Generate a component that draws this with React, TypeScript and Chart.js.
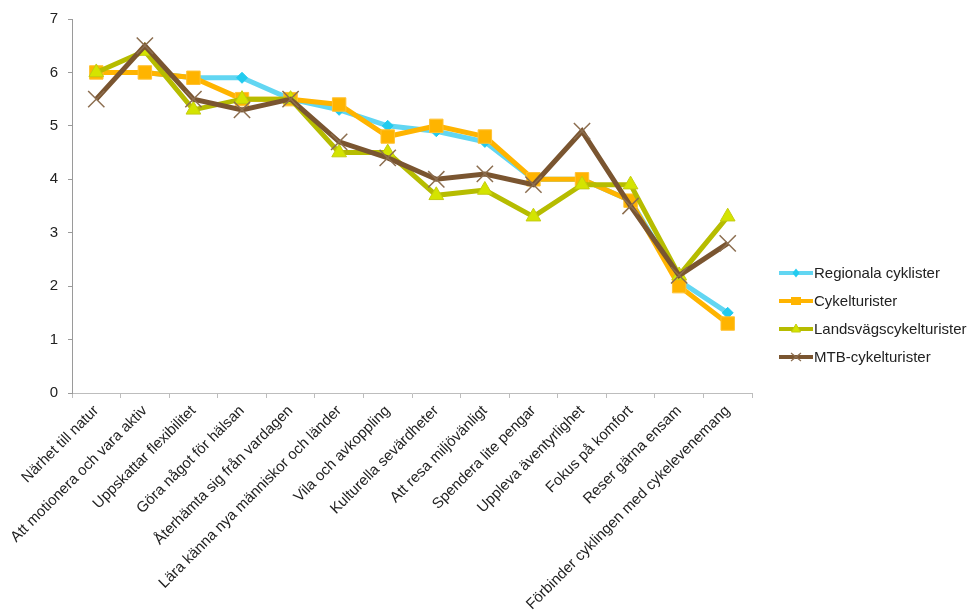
import React, { useEffect, useRef } from "react";
import { Chart, registerables } from "chart.js";

Chart.register(...registerables);

const categories = [
  "Närhet till natur",
  "Att motionera och vara aktiv",
  "Uppskattar flexibilitet",
  "Göra något för hälsan",
  "Återhämta sig från vardagen",
  "Lära känna nya människor och länder",
  "Vila och avkoppling",
  "Kulturella sevärdheter",
  "Att resa miljövänligt",
  "Spendera lite pengar",
  "Uppleva äventyrlighet",
  "Fokus på komfort",
  "Reser gärna ensam",
  "Förbinder cyklingen med cykelevenemang",
];

const regionalaCyklister = [6.0, 6.0, 5.9, 5.9, 5.5, 5.3, 5.0, 4.9, 4.7, 4.0, 4.0, 3.6, 2.1, 1.5];
const cykelturister = [6.0, 6.0, 5.9, 5.5, 5.5, 5.4, 4.8, 5.0, 4.8, 4.0, 4.0, 3.6, 2.0, 1.3];
const landsvagscykelturister = [6.0, 6.4, 5.3, 5.5, 5.5, 4.5, 4.5, 3.7, 3.8, 3.3, 3.9, 3.9, 2.2, 3.3];
const mtbCykelturister = [5.5, 6.5, 5.5, 5.3, 5.5, 4.7, 4.4, 4.0, 4.1, 3.9, 4.9, 3.5, 2.2, 2.8];

const yTicks = [0, 1, 2, 3, 4, 5, 6, 7];

const FONT = "'Liberation Sans', Arial, Helvetica, sans-serif";

// Legend at the right: a short line sample with the series marker in its middle.
const sideLegend = {
  id: "sideLegend",
  afterDraw(chart: any) {
    const ctx = chart.ctx;
    const x0 = 779;
    const x1 = 813;
    const top = 273;
    const step = 28;
    chart.data.datasets.forEach((ds: any, i: number) => {
      const y = top + i * step;
      const cx = (x0 + x1) / 2;
      ctx.save();
      ctx.strokeStyle = ds.borderColor;
      ctx.lineWidth = 4;
      ctx.beginPath();
      ctx.moveTo(x0, y);
      ctx.lineTo(x1, y);
      ctx.stroke();

      ctx.fillStyle = ds.pointBackgroundColor;
      ctx.strokeStyle = ds.pointBorderColor;
      ctx.lineWidth = 1;
      ctx.beginPath();
      if (ds.pointStyle === "rectRot") {
        ctx.moveTo(cx, y - 4.5);
        ctx.lineTo(cx + 3.5, y);
        ctx.lineTo(cx, y + 4.5);
        ctx.lineTo(cx - 3.5, y);
        ctx.closePath();
        ctx.fill();
      } else if (ds.pointStyle === "rect") {
        ctx.rect(cx - 5, y - 4, 10, 8);
        ctx.fill();
      } else if (ds.pointStyle === "triangle") {
        ctx.moveTo(cx, y - 5);
        ctx.lineTo(cx + 4.5, y + 3);
        ctx.lineTo(cx - 4.5, y + 3);
        ctx.closePath();
        ctx.fill();
        ctx.stroke();
      } else {
        ctx.lineWidth = 1.2;
        ctx.moveTo(cx - 5, y - 4);
        ctx.lineTo(cx + 5, y + 4);
        ctx.moveTo(cx + 5, y - 4);
        ctx.lineTo(cx - 5, y + 4);
        ctx.stroke();
      }

      ctx.fillStyle = "#222";
      ctx.font = `15px ${FONT}`;
      ctx.textAlign = "left";
      ctx.textBaseline = "middle";
      ctx.fillText(ds.label, x1 + 1, y + 1);
      ctx.restore();
    });
  },
};

export default function App() {
  const canvasRef = useRef<HTMLCanvasElement | null>(null);

  useEffect(() => {
    document.body.style.margin = "0";
    const canvas = canvasRef.current;
    if (!canvas) return;

    const chart = new Chart(canvas, {
      type: "line",
      data: {
        labels: categories,
        datasets: [
          {
            label: "Regionala cyklister",
            data: regionalaCyklister,
            borderColor: "#62D6F2",
            borderWidth: 5,
            pointStyle: "rectRot",
            pointRadius: 5.5,
            pointBackgroundColor: "#22CBEF",
            pointBorderColor: "#22CBEF",
            pointBorderWidth: 1,
            order: 4,
          },
          {
            label: "Cykelturister",
            data: cykelturister,
            borderColor: "#FFB400",
            borderWidth: 5,
            pointStyle: "rect",
            pointRadius: 9.5,
            pointBackgroundColor: "#FFB400",
            pointBorderColor: "#FFC233",
            pointBorderWidth: 1,
            order: 3,
          },
          {
            label: "Landsvägscykelturister",
            data: landsvagscykelturister,
            borderColor: "#B6BC00",
            borderWidth: 5,
            pointStyle: "triangle",
            pointRadius: 8.5,
            pointBackgroundColor: "#D4E400",
            pointBorderColor: "#C4CC10",
            pointBorderWidth: 1,
            order: 2,
          },
          {
            label: "MTB-cykelturister",
            data: mtbCykelturister,
            borderColor: "#7A5530",
            borderWidth: 5,
            pointStyle: "crossRot",
            pointRadius: 11.5,
            pointBackgroundColor: "#7A5530",
            pointBorderColor: "#8C6E50",
            pointBorderWidth: 1.5,
            order: 1,
          },
        ],
      },
      options: {
        animation: false,
        responsive: true,
        maintainAspectRatio: false,
        layout: { padding: { top: 17, right: 218, bottom: 0, left: 0 } },
        elements: { line: { tension: 0 } },
        plugins: {
          legend: { display: false },
          tooltip: { enabled: false },
        },
        scales: {
          x: {
            type: "category",
            offset: true,
            grid: {
              display: true,
              drawOnChartArea: false,
              drawTicks: true,
              tickLength: 5,
              color: "#bdbdbd",
              offset: true,
            },
            border: { display: true, color: "#bdbdbd", width: 1 },
            ticks: {
              autoSkip: false,
              minRotation: 45,
              maxRotation: 45,
              padding: 4,
              color: "#222",
              font: { family: FONT, size: 15 },
            },
            afterFit(scale: any) {
              scale.height = 221;
            },
          },
          y: {
            min: 0,
            max: 7,
            afterBuildTicks(scale: any) {
              scale.ticks = yTicks.map((v) => ({ value: v }));
            },
            grid: {
              display: true,
              drawOnChartArea: false,
              drawTicks: true,
              tickLength: 4,
              color: "#9a9a9a",
            },
            border: { display: true, color: "#9a9a9a", width: 1 },
            ticks: {
              padding: 10,
              color: "#222",
              font: { family: FONT, size: 15 },
            },
            afterFit(scale: any) {
              scale.width = 72;
            },
          },
        },
      },
      plugins: [sideLegend],
    });

    return () => chart.destroy();
  }, []);

  return (
    <div style={{ position: "relative", width: 970, height: 614 }}>
      <canvas ref={canvasRef} />
    </div>
  );
}
